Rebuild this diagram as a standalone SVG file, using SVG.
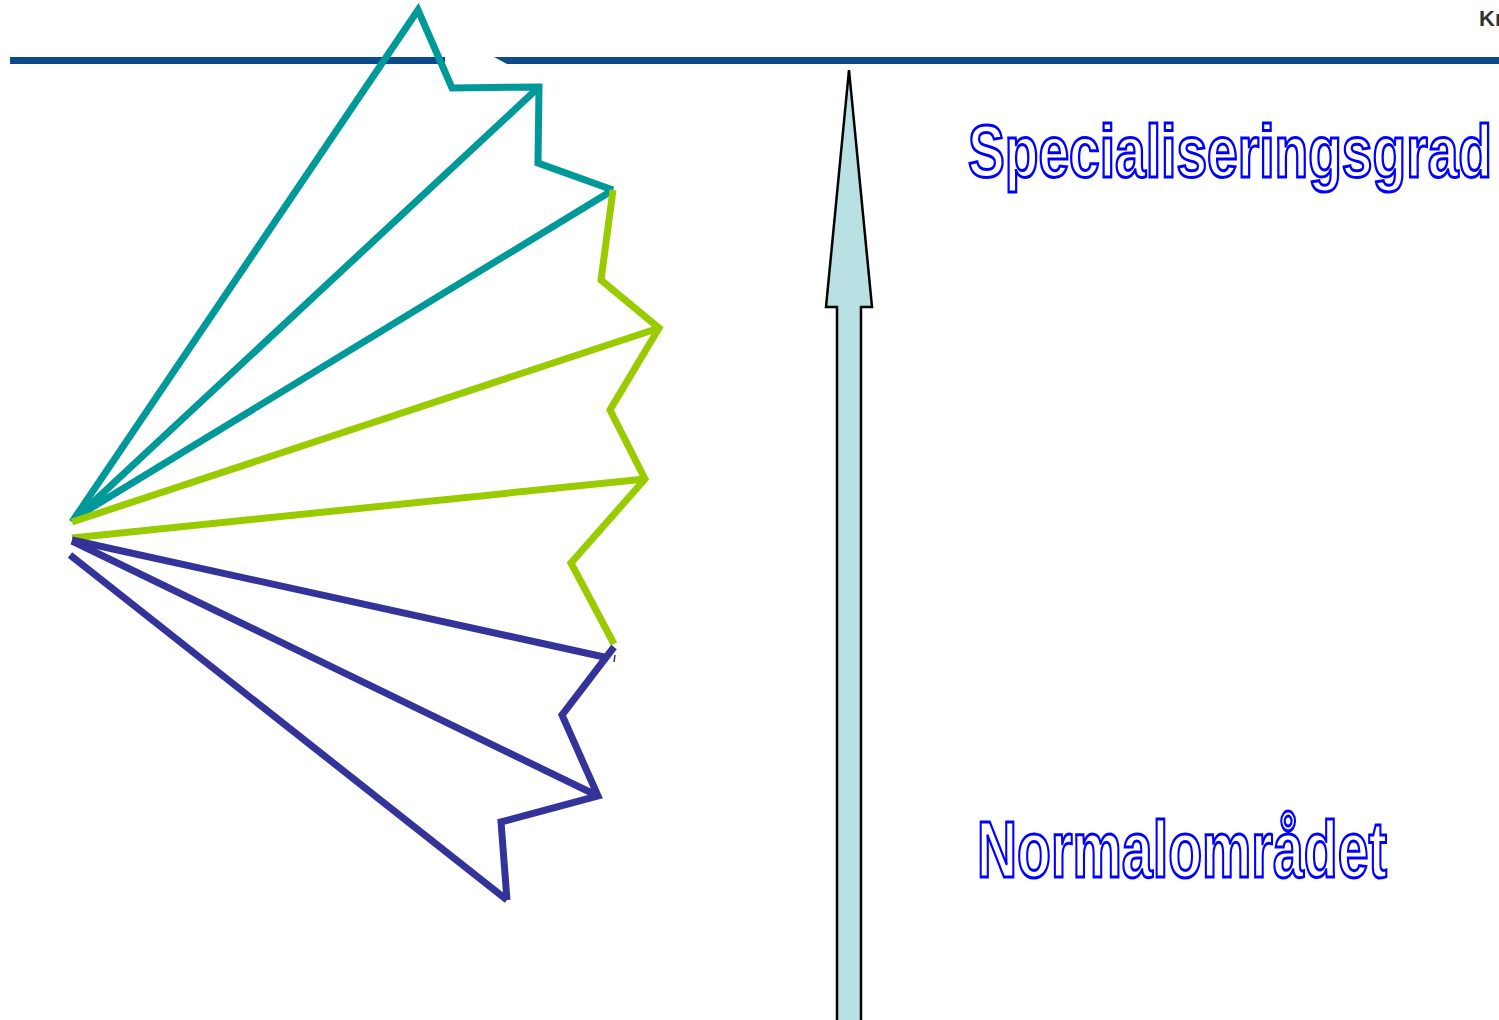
<svg xmlns="http://www.w3.org/2000/svg" width="1499" height="1020" viewBox="0 0 1499 1020">
<style>
.zz{fill:none;stroke-width:7;stroke-linejoin:miter;stroke-linecap:butt}
.teal{stroke:#009999}
.green{stroke:#99cc00}
.purple{stroke:#333399}
.outline{font-family:"Liberation Sans",Arial,sans-serif;font-weight:bold;fill:#ffffff;stroke:#0000ff;stroke-width:3}
</style>
<rect width="1499" height="1020" fill="#ffffff"/>
<g id="topline">
<rect x="10" y="57" width="435" height="7" fill="#0d4a8a"/>
<polygon points="494,57 1499,57 1499,64 507,64" fill="#0d4a8a"/>
</g>
<g id="connectors">
<polyline class="zz teal" points="72,522 418,10 452,88 539,87 538,163 613,190"/>
<line class="zz teal" x1="75" y1="519" x2="539" y2="87"/>
<line class="zz teal" x1="78" y1="516" x2="613" y2="190"/>
<polyline class="zz green" points="613,190 601,280 659,328 610,410 645,479 571,563 614,644"/>
<line class="zz green" x1="72" y1="522" x2="659" y2="328"/>
<line class="zz green" x1="72" y1="538" x2="645" y2="479"/>
<line class="zz purple" x1="72" y1="540" x2="604" y2="657"/>
<polyline class="zz purple" points="614,647 562,715 598,796 501,822 507,900"/>
<line class="zz purple" x1="72" y1="541" x2="598" y2="796"/>
<line class="zz purple" x1="70" y1="555" x2="507" y2="900"/>
<line x1="615" y1="655" x2="614" y2="662" stroke="#333399" stroke-width="1.5"/>
</g>
<g id="arrow">
<polygon points="849,70 872,307 861,307 861,1025 837,1025 837,307 826,307" fill="#b9e0e3" stroke="#000000" stroke-width="2.5" stroke-linejoin="miter"/>
</g>
<g id="label-top">
<text class="outline" x="968" y="177" font-size="74" textLength="524" lengthAdjust="spacingAndGlyphs">Specialiseringsgrad</text>
</g>
<g id="label-bottom">
<text class="outline" x="977" y="877" font-size="80" textLength="410" lengthAdjust="spacingAndGlyphs">Normalområdet</text>
</g>
<g id="corner-text">
<text x="1479" y="26" font-family="'Liberation Sans',Arial,sans-serif" font-weight="bold" font-size="22" fill="#333333">Kr</text>
</g>
</svg>
